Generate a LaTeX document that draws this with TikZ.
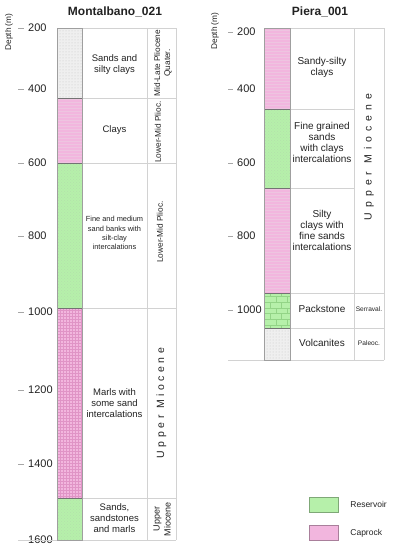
\documentclass[tikz,border=0pt]{standalone}
\usepackage{fontspec}
\setmainfont{Liberation Sans}
\usetikzlibrary{patterns, positioning}

\definecolor{resGreen}{HTML}{B6F0AA}
\definecolor{greenDark}{HTML}{93D487}
\definecolor{capPink}{HTML}{F2B6DE}
\definecolor{pinkDark}{HTML}{E094C6}
\definecolor{sandGray}{HTML}{EFEFEF}
\definecolor{ruleGray}{HTML}{D2D2D2}
\definecolor{inkGray}{HTML}{222222}

\begin{document}
\begin{tikzpicture}[
    x=1pt, y=-1pt,
    every node/.style={text=inkGray},
    title/.style={font=\bfseries\fontsize{12}{14}\selectfont},
    depthaxis/.style={rotate=90, font=\fontsize{8.3}{10}\selectfont},
    depthlbl/.style={anchor=west, inner sep=0pt, font=\fontsize{11}{13}\selectfont},
    desc/.style={align=center, inner sep=1pt, font=\fontsize{9.5}{11}\selectfont},
    descsmall/.style={align=center, inner sep=1pt, font=\fontsize{7.4}{9.3}\selectfont},
    agelbl/.style={rotate=90, align=center, inner sep=1pt, font=\fontsize{8.3}{10}\selectfont},
    agetiny/.style={inner sep=0pt, font=\fontsize{6.6}{8}\selectfont},
    spaced/.style={rotate=90, inner sep=0pt,
                   font=\fontsize{10.5}{12}\selectfont\addfontfeatures{LetterSpace=#1}},
    tickmark/.style={draw=gray!70, line width=0.6pt},
    rulebox/.style={draw=ruleGray, line width=0.6pt},
    colframe/.style={draw=gray!75, line width=0.6pt},
    bedline/.style={draw=gray!90!black, line width=0.6pt},
    clays/.style={fill=capPink, postaction={pattern=horizontal lines, pattern color=pinkDark!55}},
    marls/.style={fill=capPink, postaction={pattern=grid, pattern color=pinkDark}},
    sands/.style={fill=resGreen, postaction={pattern=crosshatch dots, pattern color=greenDark!70}},
    packst/.style={fill=resGreen, postaction={pattern=bricks, pattern color=greenDark}},
    loose/.style={fill=sandGray, postaction={pattern=dots, pattern color=gray!45}},
    legbox/.style={draw=#1!70!black, fill=#1, minimum width=29pt, minimum height=15pt, inner sep=0pt}
  ]
    \useasboundingbox (0,0) rectangle (392,550);

    % Montalbano_021
    \node[title] (mtitle) at (115,12) {Montalbano\_021};
    \node[depthaxis] (mdepth) at (9,32) {Depth (m)};
    \foreach \d/\y in {200/28, 400/89, 600/163, 800/236, 1000/312, 1200/390, 1400/464, 1600/540} {
      \draw[tickmark] (18,\y) -- (24,\y);
      \node[depthlbl] (mtick\d) at (28,\y) {\d};
    }

    \path[loose]  (57,28)  rectangle (82,98);
    \path[clays]  (57,98)  rectangle (82,163);
    \path[sands]  (57,163) rectangle (82,308);
    \path[marls]  (57,308) rectangle (82,498);
    \path[sands]  (57,498) rectangle (82,540);

    \draw[rulebox] (57,28) -- (176,28) -- (176,540);
    \draw[rulebox] (147,28) -- (147,540);
    \foreach \y in {98, 163, 308, 498}
      \draw[rulebox] (82,\y) -- (176,\y);
    \draw[rulebox] (18,540) -- (176,540);
    \foreach \y in {98, 163, 308, 498}
      \draw[bedline] (57,\y) -- (82,\y);
    \draw[colframe] (57,28) rectangle (82,540);

    \node[desc] (msands) at (114.5,65)  {Sands and\\silty clays};
    \node[desc] (mclays) at (114.5,130) {Clays};
    \node[descsmall] (mfine) at (114.5,233) {Fine and medium\\sand banks with\\silt-clay\\intercalations};
    \node[desc] (mmarls) at (114.5,403) {Marls with\\some sand\\intercalations};
    \node[desc] (msandst) at (114.5,518) {Sands,\\sandstones\\and marls};

    \node[agelbl] (mage1) at (158,132) {Lower-Mid Plioc.};
    \node[agelbl] (mage2) at (163,63)  {Mid-Late Pliocene\\Quater.};
    \node[agelbl] (mage3) at (160,232) {Lower-Mid Plioc.};
    \node[spaced=34] (mage4) at (161.5,403) {Upper Miocene};
    \node[agelbl, font=\fontsize{9}{11}\selectfont] (mage5) at (162,519) {Upper\\Miocene};

    % Piera_001
    \node[title] (ptitle) at (320,12) {Piera\_001};
    \node[depthaxis] (pdepth) at (215,31) {Depth (m)};
    \foreach \d/\y in {200/32, 400/89, 600/163, 800/236, 1000/310} {
      \draw[tickmark] (228,\y) -- (233,\y);
      \node[depthlbl] (ptick\d) at (237,\y) {\d};
    }

    \path[clays]  (264,28)  rectangle (290,109);
    \path[sands]  (264,109) rectangle (290,188);
    \path[clays]  (264,188) rectangle (290,293);
    \path[packst] (264,293) rectangle (290,328);
    \path[loose]  (264,328) rectangle (290,360);

    \draw[rulebox] (264,28) -- (384,28) -- (384,360);
    \draw[rulebox] (354,28) -- (354,360);
    \foreach \y in {109, 188}
      \draw[rulebox] (290,\y) -- (354,\y);
    \foreach \y in {293, 328}
      \draw[rulebox] (290,\y) -- (384,\y);
    \draw[rulebox] (228,360) -- (384,360);
    \foreach \y in {109, 188, 293, 328}
      \draw[bedline] (264,\y) -- (290,\y);
    \draw[colframe] (264,28) rectangle (290,360);

    \node[desc, font=\fontsize{10}{11}\selectfont] (psandy) at (322,67)  {Sandy-silty\\clays};
    \node[desc, font=\fontsize{10}{11}\selectfont] (pfine)  at (322,142) {Fine grained\\sands\\with clays\\intercalations};
    \node[desc, font=\fontsize{10}{11}\selectfont] (psilty) at (322,230) {Silty\\clays with\\fine sands\\intercalations};
    \node[desc, font=\fontsize{10}{11}\selectfont] (ppack)  at (322,309) {Packstone};
    \node[desc, font=\fontsize{10}{11}\selectfont] (pvolc)  at (322,343) {Volcanites};

    \node[spaced=48] (page1) at (369,157) {Upper Miocene};
    \node[agetiny] (page2) at (369,309) {Serraval.};
    \node[agetiny] (page3) at (369,343) {Paleoc.};

    % legend
    \node[legbox=resGreen] (reskey) at (323.5,504.5) {};
    \node[legbox=capPink]  (capkey) at (323.5,533) {};
    \node[right=12pt of reskey, inner sep=0pt, font=\fontsize{8.5}{10}\selectfont] (reslbl) {Reservoir};
    \node[right=12pt of capkey, inner sep=0pt, font=\fontsize{8.5}{10}\selectfont] (caplbl) {Caprock};
  \end{tikzpicture}
\end{document}
